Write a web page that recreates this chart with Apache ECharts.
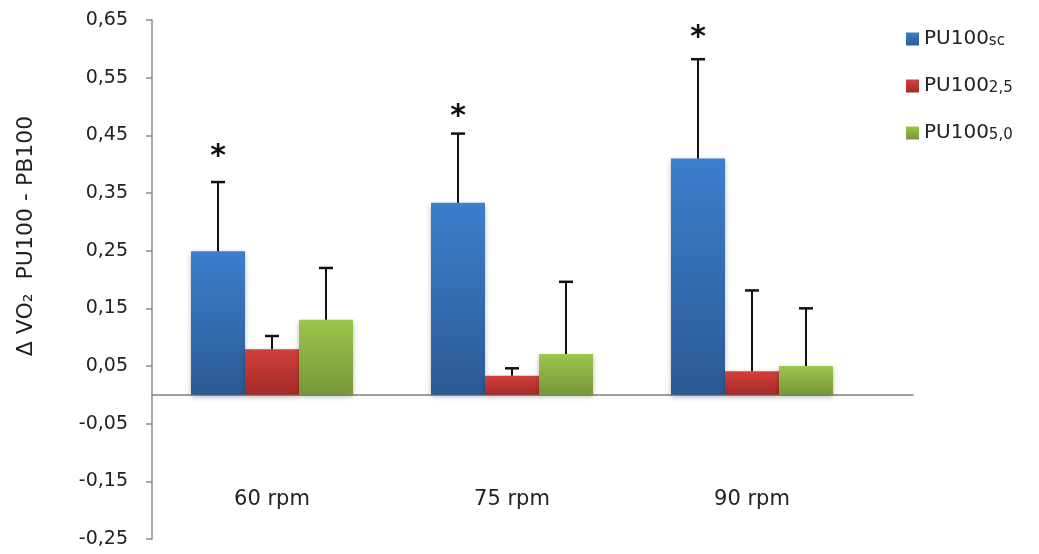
<!DOCTYPE html>
<html>
<head>
<meta charset="utf-8">
<script src="https://cdn.jsdelivr.net/npm/echarts@6/dist/echarts.min.js"></script>
<style>html,body{margin:0;padding:0;background:#fff}#c{width:1039px;height:554px}</style>
</head>
<body>
<div id="c"></div>
<script>
const categories = ['60 rpm', '75 rpm', '90 rpm'];
const seriesNames = ['PU100sc', 'PU100_2,5', 'PU100_5,0'];
const legendMain = ['PU100', 'PU100', 'PU100'];
const legendSub = ['sc', '2,5', '5,0'];
const valuesSc = [0.249, 0.333, 0.410];
const values25 = [0.079, 0.033, 0.041];
const values50 = [0.130, 0.071, 0.050];
const errSc = [0.120, 0.120, 0.172];
const err25 = [0.023, 0.013, 0.140];
const err50 = [0.090, 0.125, 0.100];
const starY = [0.42, 0.49, 0.627];
const starShown = [true, true, true];
const yTicks = [-0.25, -0.15, -0.05, 0.05, 0.15, 0.25, 0.35, 0.45, 0.55, 0.65];

const FONT = 'DejaVu Sans';
const BAR_FRAC = 0.225;
const gradients = [
  ['#3B7FCC', '#2B5A93'],
  ['#D23F3B', '#A42B28'],
  ['#9DC64B', '#76963A']
];
const allValues = [valuesSc, values25, values50];
const allErr = [errSc, err25, err50];

function grad(c) {
  return new echarts.graphic.LinearGradient(0, 0, 0, 1, [
    { offset: 0, color: c[0] }, { offset: 1, color: c[1] }
  ]);
}

const series = [];
allValues.forEach((vals, i) => {
  series.push({
    name: seriesNames[i],
    type: 'bar',
    xAxisIndex: 0, yAxisIndex: 0,
    data: vals,
    barWidth: (BAR_FRAC * 100) + '%',
    barGap: '0%',
    itemStyle: {
      color: grad(gradients[i]),
      shadowBlur: 5, shadowColor: 'rgba(0,0,0,0.28)', shadowOffsetY: 2
    },
    z: 2
  });
});
allValues.forEach((vals, i) => {
  series.push({
    type: 'custom',
    xAxisIndex: 0, yAxisIndex: 0,
    data: vals.map((v, k) => [k, v, allErr[i][k]]),
    z: 5,
    silent: true,
    renderItem: function (params, api) {
      const cat = api.value(0), v = api.value(1), e = api.value(2);
      const bw = api.size([1, 0])[0] * BAR_FRAC;
      const off = (i - 1) * bw;
      const base = api.coord([cat, v]);
      const top = api.coord([cat, v + e]);
      const x = base[0] + off;
      return {
        type: 'group',
        children: [
          { type: 'line', shape: { x1: x, y1: base[1], x2: x, y2: top[1] }, style: { stroke: '#111', lineWidth: 2 } },
          { type: 'line', shape: { x1: x - 7, y1: top[1], x2: x + 7, y2: top[1] }, style: { stroke: '#111', lineWidth: 2.5 } }
        ]
      };
    }
  });
});
series.push({
  type: 'custom',
  xAxisIndex: 0, yAxisIndex: 0,
  data: starY.map((v, k) => [k, v, starShown[k] ? 1 : 0]),
  z: 6,
  silent: true,
  renderItem: function (params, api) {
    if (!api.value(2)) return null;
    const cat = api.value(0), v = api.value(1);
    const bw = api.size([1, 0])[0] * BAR_FRAC;
    const p = api.coord([cat, v]);
    return {
      type: 'text',
      x: p[0] - bw, y: p[1] + 5,
      style: { text: '*', font: 'bold 30px ' + FONT, fill: '#111', align: 'center', verticalAlign: 'middle' }
    };
  }
});
// full-width zero baseline
series.push({
  type: 'line', xAxisIndex: 1, yAxisIndex: 1, data: [], silent: true
});

const option = {
  animation: false,
  backgroundColor: '#fff',
  grid: [
    { left: 152, right: 167, top: 20, bottom: 15, containLabel: false, outerBoundsMode: 'none' },
    { left: 152, right: 126, top: 20, bottom: 15, containLabel: false, outerBoundsMode: 'none' }
  ],
  legend: {
    data: seriesNames,
    orient: 'vertical',
    left: 901, top: 24,
    itemWidth: 13, itemHeight: 13, itemGap: 27,
    icon: 'rect',
    formatter: function (name) {
      const i = seriesNames.indexOf(name);
      return '{m|' + legendMain[i] + '}{s|' + legendSub[i] + '}';
    },
    textStyle: {
      rich: {
        m: { fontFamily: FONT, fontSize: 20, color: '#222' },
        s: { fontFamily: FONT, fontSize: 15, color: '#222', padding: [5, 0, 0, 0] }
      }
    }
  },
  xAxis: [
    {
      type: 'category', gridIndex: 0, data: categories,
      position: 'bottom',
      axisLine: { show: false, onZero: false },
      axisTick: { show: false },
      axisLabel: { margin: -50, fontFamily: FONT, fontSize: 21, color: '#222', interval: 0 }
    },
    {
      type: 'value', gridIndex: 1, min: 0, max: 1,
      axisLine: { show: true, onZero: true, lineStyle: { color: '#7f7f7f', width: 1.5 } },
      axisTick: { show: false }, axisLabel: { show: false }, splitLine: { show: false }
    }
  ],
  yAxis: [
    {
      type: 'value', gridIndex: 0,
      min: yTicks[0], max: yTicks[yTicks.length - 1], interval: 0.1,
      axisLine: { show: true, lineStyle: { color: '#8c8c8c', width: 1.5 } },
      axisTick: { show: true, inside: false, length: 6, lineStyle: { color: '#8c8c8c', width: 1.5 } },
      splitLine: { show: false },
      axisLabel: {
        margin: 24, fontFamily: FONT, fontSize: 19, color: '#222',
        formatter: function (v) { return v.toFixed(2).replace('.', ','); }
      }
    },
    {
      type: 'value', gridIndex: 1,
      min: yTicks[0], max: yTicks[yTicks.length - 1],
      show: true, axisLine: { show: false }, axisTick: { show: false }, axisLabel: { show: false }, splitLine: { show: false }
    }
  ],
  graphic: [
    {
      type: 'text', x: 26, y: 236, rotation: Math.PI / 2,
      style: { text: 'Δ VO₂  PU100 - PB100', font: '22px ' + FONT, fill: '#222', align: 'center', verticalAlign: 'middle' }
    }
  ],
  series: series
};

const chart = echarts.init(document.getElementById('c'), null, { renderer: 'canvas' });
chart.setOption(option);
</script>
</body>
</html>
